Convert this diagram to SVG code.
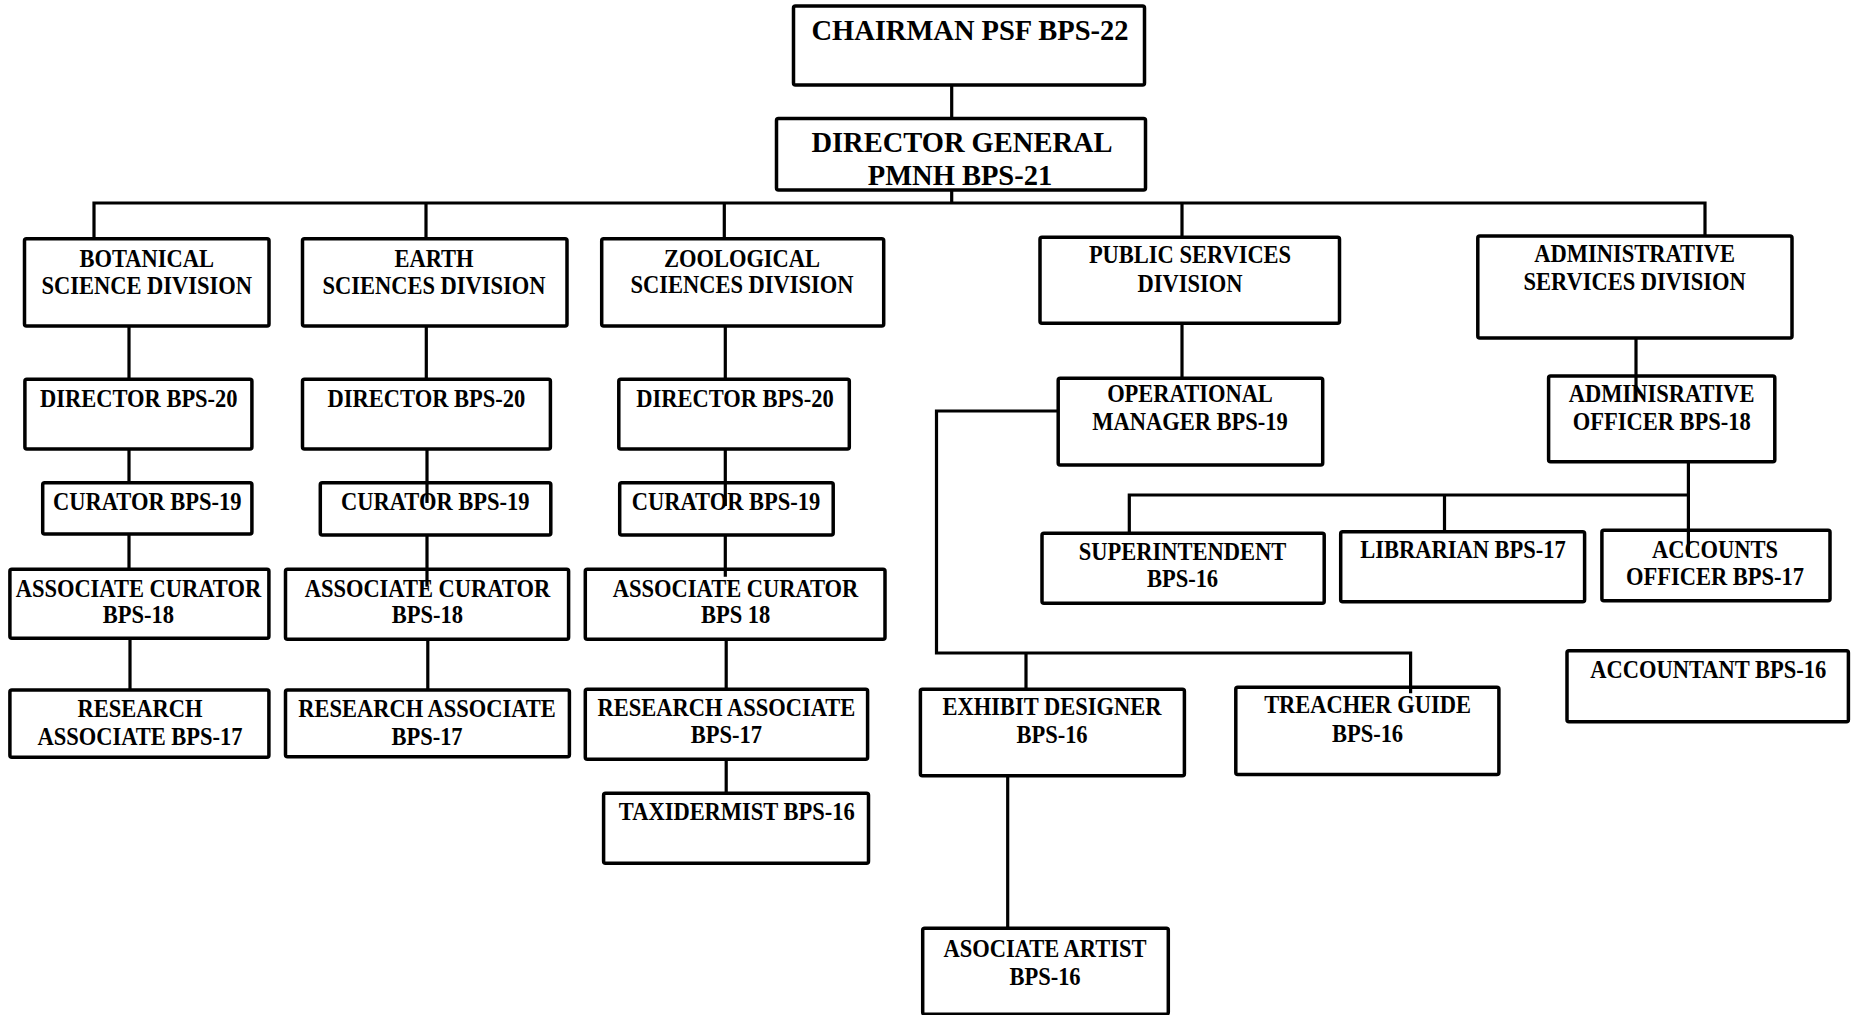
<svg xmlns="http://www.w3.org/2000/svg" width="1857" height="1015" viewBox="0 0 1857 1015">
<style>
.b{fill:#fff;stroke:#000;stroke-width:3.5}
.c{fill:none;stroke:#000;stroke-width:3.2}
.t{font-family:"Liberation Serif","Times New Roman",serif;font-weight:bold;font-size:25px;text-anchor:middle;fill:#000}
.h{font-size:28.5px}
</style>
<rect width="1857" height="1015" fill="#fff"/>
<g id="nodes">
<g id="chairman"><rect class="b" x="793.5" y="6" width="351" height="79" rx="2"/><text class="t h" x="970" y="40">CHAIRMAN PSF BPS-22</text></g>
<g id="dg"><rect class="b" x="776.5" y="118.5" width="369" height="71.5" rx="2"/><text class="t h"><tspan x="962" y="151.7">DIRECTOR GENERAL</tspan><tspan x="960" y="185">PMNH BPS-21</tspan></text></g>
<g id="botanical"><rect class="b" x="24.5" y="238.7" width="244.5" height="87.3" rx="2"/><text class="t" transform="translate(146.7,266.7) scale(.9 1)"><tspan x="0" y="0">BOTANICAL</tspan><tspan x="0" y="27.3">SCIENCE DIVISION</tspan></text></g>
<g id="earth"><rect class="b" x="302.5" y="238.7" width="264.5" height="87.3" rx="2"/><text class="t" transform="translate(434,266.7) scale(.9 1)"><tspan x="0" y="0">EARTH</tspan><tspan x="0" y="27.3">SCIENCES DIVISION</tspan></text></g>
<g id="zoological"><rect class="b" x="601.7" y="238.7" width="282" height="87.3" rx="2"/><text class="t" transform="translate(742,266.7) scale(.9 1)"><tspan x="0" y="0">ZOOLOGICAL</tspan><tspan x="0" y="26.6">SCIENCES DIVISION</tspan></text></g>
<g id="public"><rect class="b" x="1040" y="237.3" width="299.5" height="86" rx="2"/><text class="t" transform="translate(1190,263) scale(.9 1)"><tspan x="0" y="0">PUBLIC SERVICES</tspan><tspan x="0" y="28.7">DIVISION</tspan></text></g>
<g id="admindiv"><rect class="b" x="1477.8" y="236" width="314.2" height="102" rx="2"/><text class="t" transform="translate(1634.6,261.7) scale(.9 1)"><tspan x="0" y="0">ADMINISTRATIVE</tspan><tspan x="0" y="28.3">SERVICES DIVISION</tspan></text></g>
<g id="bot-director"><rect class="b" x="24.9" y="379.3" width="227" height="69.7" rx="2"/><text class="t" transform="translate(138.8,406.7) scale(.9 1)">DIRECTOR BPS-20</text></g>
<g id="bot-curator"><rect class="b" x="42.7" y="482.7" width="209.2" height="51.3" rx="2"/><text class="t" transform="translate(147.3,510) scale(.9 1)">CURATOR BPS-19</text></g>
<g id="bot-assoc"><rect class="b" x="9.9" y="569.3" width="259" height="69" rx="2"/><text class="t" transform="translate(138.4,596.7) scale(.9 1)"><tspan x="0" y="0">ASSOCIATE CURATOR</tspan><tspan x="0" y="26.6">BPS-18</tspan></text></g>
<g id="bot-research"><rect class="b" x="9.9" y="690" width="259" height="67.3" rx="2"/><text class="t" transform="translate(140,716.7) scale(.9 1)"><tspan x="0" y="0">RESEARCH</tspan><tspan x="0" y="28.3">ASSOCIATE BPS-17</tspan></text></g>
<g id="earth-director"><rect class="b" x="302.5" y="379.3" width="247.9" height="69.7" rx="2"/><text class="t" transform="translate(426.4,406.7) scale(.9 1)">DIRECTOR BPS-20</text></g>
<g id="earth-curator"><rect class="b" x="320.3" y="482.7" width="230.5" height="52.3" rx="2"/><text class="t" transform="translate(435.3,510) scale(.9 1)">CURATOR BPS-19</text></g>
<g id="earth-assoc"><rect class="b" x="285.5" y="569.3" width="283.1" height="70" rx="2"/><text class="t" transform="translate(427.4,596.7) scale(.9 1)"><tspan x="0" y="0">ASSOCIATE CURATOR</tspan><tspan x="0" y="26.6">BPS-18</tspan></text></g>
<g id="earth-research"><rect class="b" x="285.5" y="690" width="283.9" height="66.7" rx="2"/><text class="t" transform="translate(427,716.7) scale(.9 1)"><tspan x="0" y="0">RESEARCH ASSOCIATE</tspan><tspan x="0" y="28.3">BPS-17</tspan></text></g>
<g id="zoo-director"><rect class="b" x="618.8" y="379.3" width="230.5" height="69.7" rx="2"/><text class="t" transform="translate(735,406.7) scale(.9 1)">DIRECTOR BPS-20</text></g>
<g id="zoo-curator"><rect class="b" x="619.7" y="482.7" width="213.5" height="52.3" rx="2"/><text class="t" transform="translate(726,510) scale(.9 1)">CURATOR BPS-19</text></g>
<g id="zoo-assoc"><rect class="b" x="585.3" y="569.3" width="299.7" height="70" rx="2"/><text class="t" transform="translate(735.6,596.7) scale(.9 1)"><tspan x="0" y="0">ASSOCIATE CURATOR</tspan><tspan x="0" y="26.6">BPS 18</tspan></text></g>
<g id="zoo-research"><rect class="b" x="585.3" y="689.3" width="282.3" height="70" rx="2"/><text class="t" transform="translate(726.4,715.5) scale(.9 1)"><tspan x="0" y="0">RESEARCH ASSOCIATE</tspan><tspan x="0" y="28">BPS-17</tspan></text></g>
<g id="taxidermist"><rect class="b" x="603.6" y="793.3" width="264.9" height="70" rx="2"/><text class="t" transform="translate(736.8,820) scale(.9 1)">TAXIDERMIST BPS-16</text></g>
<g id="operational"><rect class="b" x="1058.2" y="378.3" width="264.5" height="86.7" rx="2"/><text class="t" transform="translate(1190,401.7) scale(.9 1)"><tspan x="0" y="0">OPERATIONAL</tspan><tspan x="0" y="28.3">MANAGER BPS-19</tspan></text></g>
<g id="exhibit"><rect class="b" x="920.4" y="689.3" width="264" height="86.4" rx="2"/><text class="t" transform="translate(1052,715) scale(.9 1)"><tspan x="0" y="0">EXHIBIT DESIGNER</tspan><tspan x="0" y="28.3">BPS-16</tspan></text></g>
<g id="treacher"><rect class="b" x="1235.8" y="687.3" width="263.1" height="87.2" rx="2"/><text class="t" transform="translate(1367.5,713.3) scale(.9 1)"><tspan x="0" y="0">TREACHER GUIDE</tspan><tspan x="0" y="28.4">BPS-16</tspan></text></g>
<g id="artist"><rect class="b" x="922.7" y="928.3" width="245.6" height="86" rx="2"/><text class="t" transform="translate(1045,956.7) scale(.9 1)"><tspan x="0" y="0">ASOCIATE ARTIST</tspan><tspan x="0" y="28.3">BPS-16</tspan></text></g>
<g id="adminofficer"><rect class="b" x="1548.6" y="376" width="226.2" height="85.7" rx="2"/><text class="t" transform="translate(1661.7,401.7) scale(.9 1)"><tspan x="0" y="0">ADMINISRATIVE</tspan><tspan x="0" y="28.3">OFFICER BPS-18</tspan></text></g>
<g id="superintendent"><rect class="b" x="1042" y="533.3" width="282.2" height="70" rx="2"/><text class="t" transform="translate(1182.5,560) scale(.9 1)"><tspan x="0" y="0">SUPERINTENDENT</tspan><tspan x="0" y="26.7">BPS-16</tspan></text></g>
<g id="librarian"><rect class="b" x="1340.7" y="531.7" width="243.9" height="70" rx="2"/><text class="t" transform="translate(1463,558.3) scale(.9 1)">LIBRARIAN BPS-17</text></g>
<g id="accounts"><rect class="b" x="1601.9" y="530.3" width="228.1" height="70.4" rx="2"/><text class="t" transform="translate(1715,558.3) scale(.9 1)"><tspan x="0" y="0">ACCOUNTS</tspan><tspan x="0" y="26.7">OFFICER BPS-17</tspan></text></g>
<g id="accountant"><rect class="b" x="1567" y="650.7" width="281.4" height="71" rx="2"/><text class="t" transform="translate(1708.3,678.3) scale(.9 1)">ACCOUNTANT BPS-16</text></g>
</g>
<g id="connectors">
<path class="c" d="M951.7 85V118.5M951.7 190V203"/>
<path class="c" d="M94 238.7V203H1705V236M426 203V238.7M724.3 203V238.7M1182 203V237.3"/>
<path class="c" d="M129 326V379.3M129 449V482.7M129 534V569.3M130 638.3V690"/>
<path class="c" d="M426.3 326V379.3M427 449V503M427 535V586.7M427.8 639.3V690"/>
<path class="c" d="M725.3 326V379.3M725.3 449V506M725.3 535V576.7M726.2 639.3V689.3M726.2 759.3V793.3"/>
<path class="c" d="M1182 323.3V378.3"/>
<path class="c" d="M1058.2 411H936.5V653H1410.6V693.3M1026 653V689.3"/>
<path class="c" d="M1007.7 775.7V928.3"/>
<path class="c" d="M1636 338V401.7"/>
<path class="c" d="M1688.4 461.7V556.7M1129.3 533.3V495H1688.4M1444.5 495V531.7"/>
</g>
</svg>
